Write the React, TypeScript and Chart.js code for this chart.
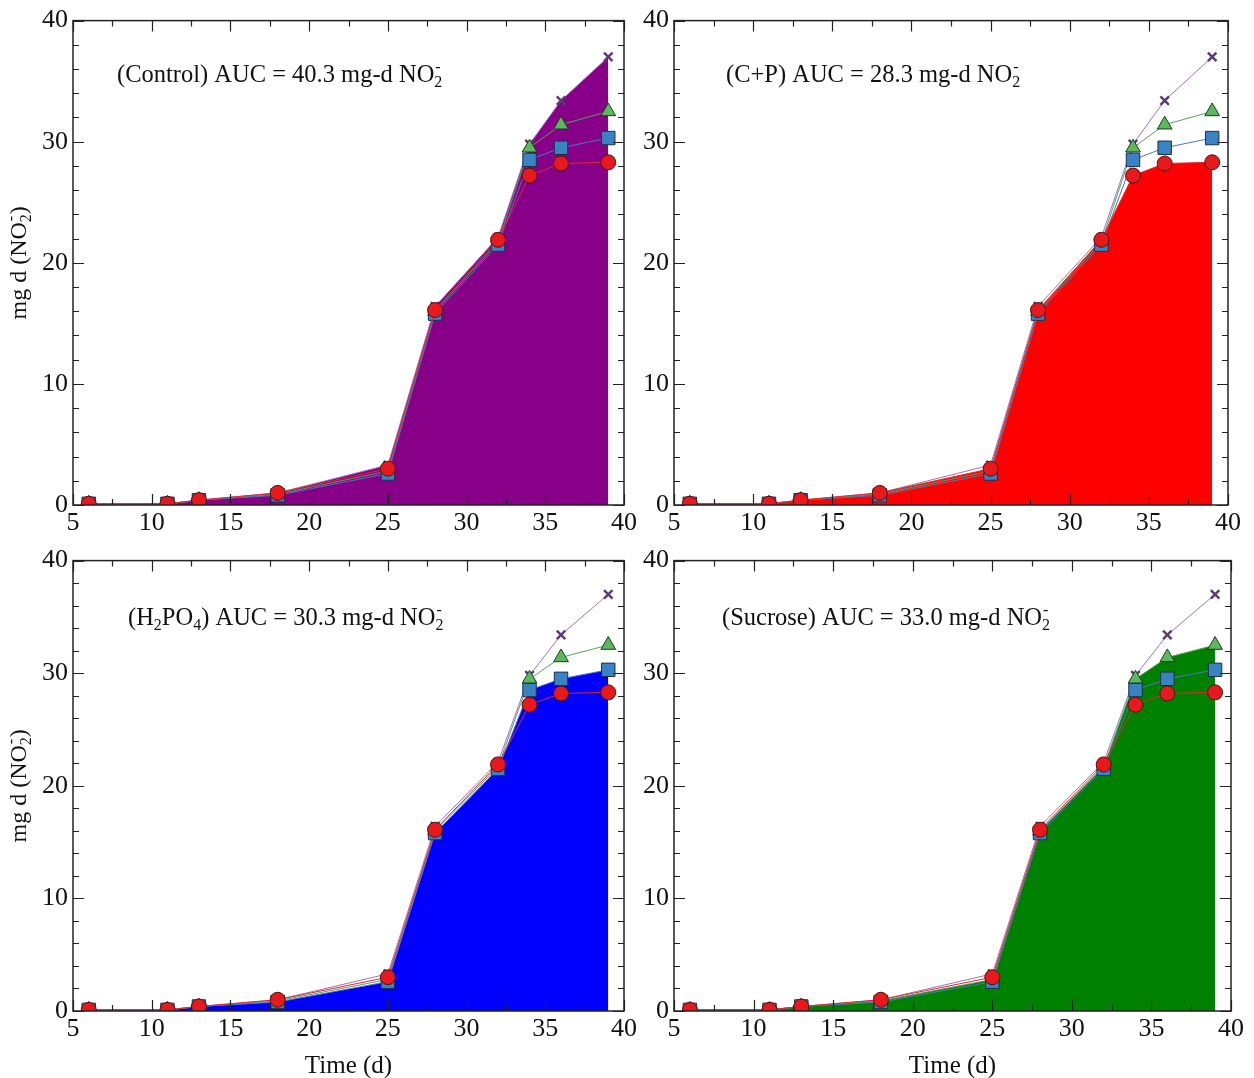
import React, { useEffect, useRef } from "react";
import { Chart, registerables } from "chart.js";

Chart.register(...registerables);

// ---- data ----
const days = [6, 11, 13, 18, 25, 28, 32, 34, 36, 39];
const control = [0.1, 0.1, 0.4, 1.0, 3.3, 16.4, 22.1, 29.8, 33.4, 37.0];
const sucrose = [0.1, 0.1, 0.4, 0.9, 2.8, 16.0, 21.7, 29.5, 31.4, 32.5];
const h2po4 = [0.1, 0.1, 0.4, 0.8, 2.6, 15.8, 21.5, 28.5, 29.5, 30.3];
const cp = [0.1, 0.1, 0.4, 1.0, 3.0, 16.1, 21.9, 27.2, 28.2, 28.3];

const panelNames = ["Control", "C+P", "H2PO4", "Sucrose"];
const aucValues = ["40.3", "28.3", "30.3", "33.0"];
const xTicks = [5, 10, 15, 20, 25, 30, 35, 40];
const yTicks = [0, 10, 20, 30, 40];
const xTitle = "Time (d)";

const FONT = "'Liberation Serif', 'Times New Roman', serif";

type Seg = { t: string; k: "n" | "sub" | "ss"; sup?: string };

function nameSegs(name: string): Seg[] {
  if (name === "H2PO4")
    return [
      { t: "(H", k: "n" },
      { t: "2", k: "sub" },
      { t: "PO", k: "n" },
      { t: "4", k: "sub" },
      { t: ")", k: "n" },
    ];
  return [{ t: "(" + name + ")", k: "n" }];
}

function segWidth(ctx: CanvasRenderingContext2D, segs: Seg[], size: number) {
  let w = 0;
  for (const s of segs) {
    if (s.k === "n") {
      ctx.font = `${size}px ${FONT}`;
      w += ctx.measureText(s.t).width;
    } else {
      ctx.font = `${Math.round(size * 0.66)}px ${FONT}`;
      let ww = ctx.measureText(s.t).width;
      if (s.sup) ww = Math.max(ww, ctx.measureText(s.sup).width);
      w += ww;
    }
  }
  return w;
}

function drawRich(ctx: CanvasRenderingContext2D, x: number, y: number, segs: Seg[], size: number) {
  ctx.textAlign = "left";
  ctx.textBaseline = "alphabetic";
  ctx.fillStyle = "#111";
  let cx = x;
  for (const s of segs) {
    if (s.k === "n") {
      ctx.font = `${size}px ${FONT}`;
      ctx.fillText(s.t, cx, y);
      cx += ctx.measureText(s.t).width;
    } else {
      ctx.font = `${Math.round(size * 0.66)}px ${FONT}`;
      ctx.fillText(s.t, cx, y + size * 0.2);
      let ww = ctx.measureText(s.t).width;
      if (s.sup) {
        ctx.fillText(s.sup, cx + 1, y - size * 0.4);
        ww = Math.max(ww, ctx.measureText(s.sup).width);
      }
      cx += ww;
    }
  }
}

const seriesDefs = [
  { data: cp, line: "#dd2a2a", face: "#e8191c", edge: "#4a1515", style: "circle", r: 7.5, order: 1 },
  { data: h2po4, line: "#4a78b8", face: "#3a83c3", edge: "#1d2f4a", style: "rect", r: 9.5, order: 2 },
  { data: sucrose, line: "#5aa05a", face: "#5cb85c", edge: "#1e3b1e", style: "triangle", r: 8.5, order: 3 },
  { data: control, line: "#a070c0", face: "#5e3b78", edge: "#5e3b78", style: "crossRot", r: 6, order: 4 },
];

type Panel = {
  idx: number;
  fill: number[];
  fillColor: string;
  rect: [number, number, number, number];
  area: [number, number, number, number];
  text: [number, number];
  yTitle: boolean;
  xTitle: boolean;
};

const panels: Panel[] = [
  { idx: 0, fill: control, fillColor: "#870087", rect: [0, 0, 640, 540], area: [73, 626, 16, 505], text: [117, 82], yTitle: true, xTitle: false },
  { idx: 1, fill: cp, fillColor: "#ff0000", rect: [640, 0, 614, 540], area: [674, 1228, 15, 505], text: [726, 82], yTitle: false, xTitle: false },
  { idx: 2, fill: h2po4, fillColor: "#0000ff", rect: [0, 540, 640, 538], area: [73, 625, 558, 1011], text: [128, 625], yTitle: true, xTitle: true },
  { idx: 3, fill: sucrose, fillColor: "#008000", rect: [640, 540, 614, 538], area: [674, 1231, 558, 1011], text: [722, 625], yTitle: false, xTitle: true },
];

function PanelChart({ p }: { p: Panel }) {
  const ref = useRef<HTMLCanvasElement>(null);
  useEffect(() => {
    const [cx, cy, cw, ch] = p.rect;
    const [L, R, T, B] = p.area;
    const yW = L - cx;
    const xH = cy + ch - B;
    const padR = cx + cw - R;
    const padT = T - cy;

    const pts = (arr: number[]) => days.map((d, i) => ({ x: d, y: arr[i] }));

    const datasets: any[] = seriesDefs.map((s) => ({
      data: pts(s.data),
      borderColor: s.line,
      borderWidth: 1,
      pointStyle: s.style,
      pointRadius: s.r,
      pointBackgroundColor: s.face,
      pointBorderColor: s.edge,
      pointBorderWidth: s.style === "crossRot" ? 2.5 : 1,
      fill: false,
      order: s.order,
      tension: 0,
    }));
    datasets.push({
      data: pts(p.fill),
      borderWidth: 0,
      borderColor: "rgba(0,0,0,0)",
      backgroundColor: p.fillColor,
      pointRadius: 0,
      fill: "origin",
      order: 10,
      tension: 0,
    });

    const framePlugin = {
      id: "frame" + p.idx,
      afterDatasetsDraw(chart: any) {
        const ctx = chart.ctx as CanvasRenderingContext2D;
        const a = chart.chartArea;
        const xs = chart.scales.x;
        const ys = chart.scales.y;
        ctx.save();
        ctx.strokeStyle = "#222";
        ctx.lineWidth = 1.2;
        ctx.beginPath();
        for (let v = 5; v <= 40.001; v += 2.5) {
          const px = Math.round(xs.getPixelForValue(v)) + 0.5;
          const len = Math.abs(v % 5) < 0.01 ? 11 : 6;
          ctx.moveTo(px, a.bottom);
          ctx.lineTo(px, a.bottom - len);
          ctx.moveTo(px, a.top);
          ctx.lineTo(px, a.top + len);
        }
        for (let v = 0; v <= 40.001; v += 2) {
          const py = Math.round(ys.getPixelForValue(v)) + 0.5;
          const len = Math.abs(v % 10) < 0.01 ? 11 : 6;
          ctx.moveTo(a.left, py);
          ctx.lineTo(a.left + len, py);
          ctx.moveTo(a.right, py);
          ctx.lineTo(a.right - len, py);
        }
        ctx.stroke();
        ctx.lineWidth = 1.5;
        ctx.strokeRect(a.left, a.top, a.right - a.left, a.bottom - a.top);
        ctx.restore();
      },
      afterDraw(chart: any) {
        const ctx = chart.ctx as CanvasRenderingContext2D;
        const a = chart.chartArea;
        ctx.save();
        const segs: Seg[] = [
          ...nameSegs(panelNames[p.idx]),
          { t: " AUC = " + aucValues[p.idx] + " mg-d NO", k: "n" },
          { t: "2", k: "ss", sup: "-" },
        ];
        drawRich(ctx, p.text[0] - cx, p.text[1] - cy, segs, 24.5);
        if (p.yTitle) {
          const ySegs: Seg[] = [
            { t: "mg d (NO", k: "n" },
            { t: "2", k: "ss", sup: "-" },
            { t: ")", k: "n" },
          ];
          const w = segWidth(ctx, ySegs, 24);
          ctx.translate(26, (a.top + a.bottom) / 2);
          ctx.rotate(-Math.PI / 2);
          drawRich(ctx, -w / 2, 0, ySegs, 24);
        }
        ctx.restore();
        if (p.xTitle) {
          ctx.save();
          ctx.font = `25px ${FONT}`;
          ctx.fillStyle = "#111";
          ctx.textAlign = "center";
          ctx.textBaseline = "alphabetic";
          ctx.fillText(xTitle, (a.left + a.right) / 2, 1073 - cy);
          ctx.restore();
        }
      },
    };

    const chart = new Chart(ref.current!, {
      type: "line",
      data: { datasets },
      plugins: [framePlugin],
      options: {
        animation: false,
        responsive: false,
        devicePixelRatio: 1,
        layout: { padding: { left: 0, right: padR, top: padT, bottom: 0 } },
        plugins: { legend: { display: false }, tooltip: { enabled: false } },
        scales: {
          x: {
            type: "linear",
            min: 5,
            max: 40,
            afterBuildTicks: (s: any) => {
              s.ticks = xTicks.map((v) => ({ value: v }));
            },
            afterFit: (s: any) => {
              s.height = xH;
            },
            grid: { display: false, drawTicks: false },
            border: { display: false },
            ticks: { color: "#111", font: { family: FONT, size: 26 }, padding: 3, maxRotation: 0, autoSkip: false },
          },
          y: {
            type: "linear",
            min: 0,
            max: 40,
            afterBuildTicks: (s: any) => {
              s.ticks = yTicks.map((v) => ({ value: v }));
            },
            afterFit: (s: any) => {
              s.width = yW;
            },
            grid: { display: false, drawTicks: false },
            border: { display: false },
            ticks: { color: "#111", font: { family: FONT, size: 26 }, padding: 5, autoSkip: false },
          },
        },
      } as any,
    });
    return () => chart.destroy();
  }, [p]);
  const [cx, cy, cw, ch] = p.rect;
  return (
    <canvas
      ref={ref}
      width={cw}
      height={ch}
      style={{ position: "absolute", left: cx, top: cy, width: cw, height: ch }}
    />
  );
}

export default function App() {
  return (
    <div style={{ position: "absolute", left: 0, top: 0, width: 1254, height: 1078, background: "#fff" }}>
      {panels.map((p) => (
        <PanelChart key={p.idx} p={p} />
      ))}
    </div>
  );
}
